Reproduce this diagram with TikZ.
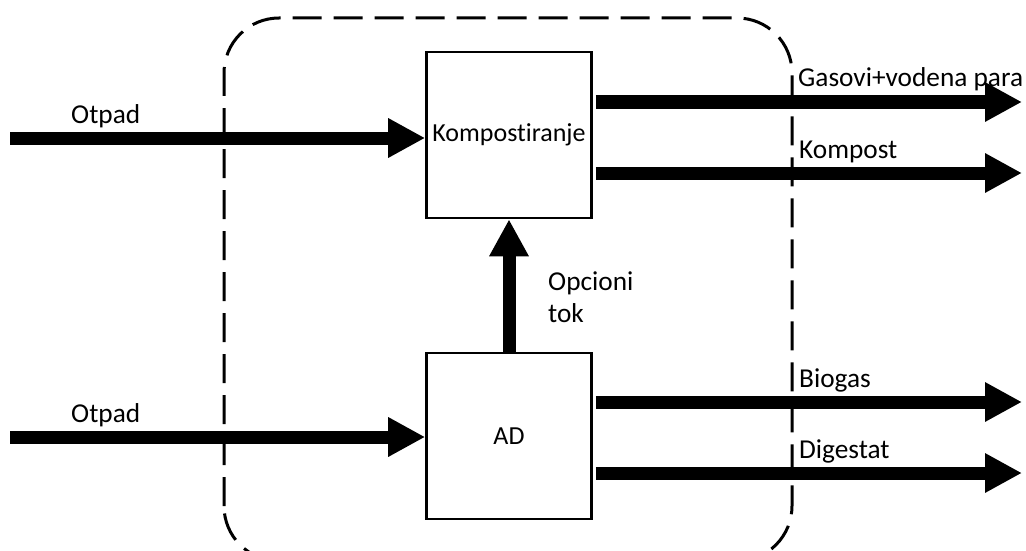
\documentclass[tikz,border=0pt]{standalone}
\usepackage{fontspec}
\setmainfont[Ligatures=NoCommon]{Carlito}
\usetikzlibrary{arrows.meta}
\tikzset{
  procbox/.style={draw=black, line width=2.6pt, minimum width=165pt, minimum height=166pt, inner sep=0pt, font=\fontsize{26}{30}\selectfont},
  flow/.style={line width=13pt, -{Triangle[length=37pt,width=37pt]}},
  lbl/.style={anchor=base west, inner sep=0pt, font=\fontsize{27.3}{31}\selectfont},
  dashbox/.style={draw=black, line width=3pt, dash pattern=on 29pt off 12pt, rounded corners=55pt}
}
\begin{document}
\begin{tikzpicture}[x=1pt,y=-1pt]
\useasboundingbox (0,0) rectangle (1026,551);
\begin{scope}
\clip (0,0) rectangle (1026,551);
\draw[dashbox] (224,561) -- (224,18) -- (792,18) -- (792,561) -- cycle;
\end{scope}
\node[procbox] (kp) at (509,135) {Kompostiranje};
\node[procbox] (ad) at (509,436) {AD};
\coordinate (in1) at (10,138);
\coordinate (in2) at (10,437);
\coordinate (o1) at (1022,102);
\coordinate (o2) at (1022,173);
\coordinate (o3) at (1022,402);
\coordinate (o4) at (1022,473);
\draw[flow] (in1) -- (kp.west |- in1);
\draw[flow] (in2) -- (ad.west |- in2);
\draw[flow] ([xshift=3pt]kp.east |- o1) -- (o1);
\draw[flow] ([xshift=3pt]kp.east |- o2) -- (o2);
\draw[flow] ([xshift=3pt]ad.east |- o3) -- (o3);
\draw[flow] ([xshift=3pt]ad.east |- o4) -- (o4);
\draw[flow] (ad.north) -- (kp.south);
\node[lbl] (t1) at (71,123) {Otpad};
\node[lbl] (t2) at (71,422) {Otpad};
\node[lbl] (t3) at (798,87) {Gasovi+vodena para};
\node[lbl] (t4) at (799,158) {Kompost};
\node[lbl] (t5) at (799,387) {Biogas};
\node[lbl] (t6) at (799,458) {Digestat};
\node[lbl] (t7) at (548,290) {Opcioni};
\node[lbl] (t8) at (548,322) {tok};
\end{tikzpicture}
\end{document}
